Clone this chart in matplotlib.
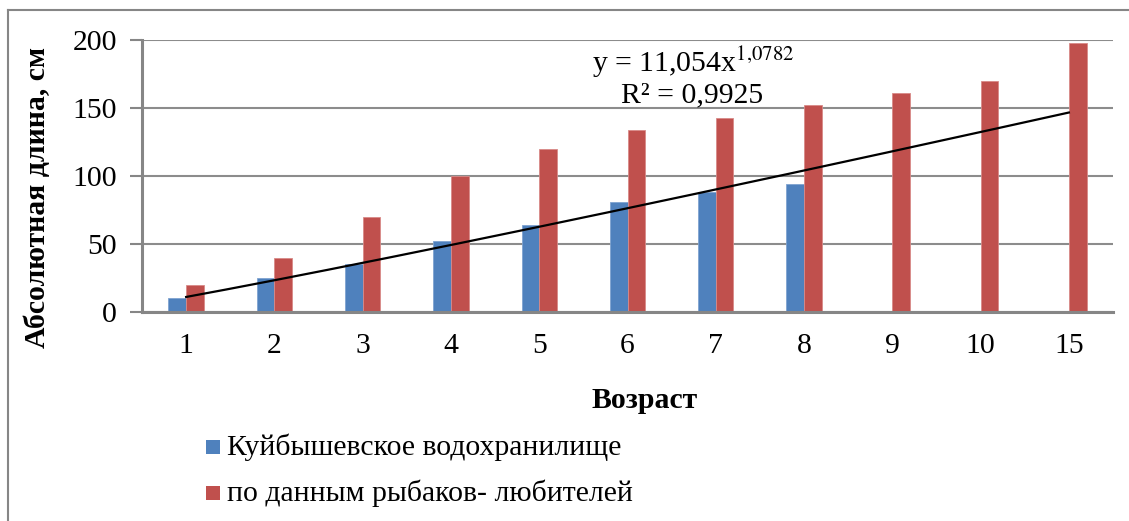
import matplotlib
matplotlib.use("Agg")
import matplotlib.pyplot as plt
import numpy as np
from matplotlib.patches import Rectangle
from matplotlib.lines import Line2D

categories = ["1", "2", "3", "4", "5", "6", "7", "8", "9", "10", "15"]
kuib = [10, 25, 35, 52, 64, 81, 88, 94, None, None, None]
fishers = [20, 40, 70, 100, 120, 134, 143, 152, 161, 170, 198]
series_names = ["Куйбышевское водохранилище", "по данным рыбаков- любителей"]
trend_a = 11.054
trend_b = 1.0782
eq_text = "y = 11,054x"
eq_exp = "1,0782"
r2_text = "R² = 0,9925"

plt.rcParams['font.family'] = ['Liberation Serif', 'DejaVu Serif']
plt.rcParams['mathtext.fontset'] = 'stix'

FS = 21.4

fig = plt.figure(figsize=(11.29, 5.21), dpi=100)
ax = fig.add_axes([142/1129, 1-312/521, (1113-142)/1129, (312-40)/521])

blue = "#4F81BD"
red = "#C0504D"
n = len(categories)
x = np.arange(n)
w = 0.2
bv = [v if v is not None else 0 for v in kuib]
ax.bar(x - w/2, bv, width=w, color=blue, edgecolor="#7FA3D0", linewidth=0.6, zorder=3)
ax.bar(x + w/2, fishers, width=w, color=red, edgecolor="#D88A88", linewidth=0.6, zorder=3)

# power trendline over category index 1..n
xi = np.linspace(1, n, 200)
ax.plot(xi - 1, trend_a * xi ** trend_b, color="black", lw=1.6, zorder=4)

ax.set_xlim(-0.5, n - 0.5)
ax.set_ylim(0, 200)
ax.set_yticks([0, 50, 100, 150, 200])
ax.set_xticks(x)
ax.set_xticklabels(categories)
ax.tick_params(axis='y', labelsize=FS, length=9, width=1.5, color="#868686", pad=9)
ax.tick_params(axis='x', labelsize=FS, length=0, pad=15)
ax.grid(axis='y', color="#8c8c8c", lw=1.5, zorder=0)
for s in ["top", "right"]:
    ax.spines[s].set_visible(False)
for s in ["left", "bottom"]:
    ax.spines[s].set_color("#868686")
    ax.spines[s].set_linewidth(2.2)
    ax.spines[s].set_zorder(5)

fig.text(38/1129, 1-197/521, "Абсолютная длина, см", rotation=90, ha="center", va="center",
         fontsize=FS, fontweight="bold")
fig.text(645/1129, 1-401/521, "Возраст", ha="center", va="center", fontsize=FS, fontweight="bold")

fig.text(693/1129, 1-62/521, eq_text + r"$^{\mathrm{" + eq_exp.replace(",", "{,}") + "}}$",
         ha="center", va="center", fontsize=FS)
fig.text(692/1129, 1-95/521, r2_text, ha="center", va="center", fontsize=FS)

# legend
for i, (name, col) in enumerate(zip(series_names, [blue, red])):
    yc = 1 - (447 + i*46)/521
    fig.patches.append(Rectangle((206/1129, yc - 7/521), 14/1129, 14/521, transform=fig.transFigure,
                                 facecolor=col, edgecolor="none"))
    fig.text(227/1129, yc, name, ha="left", va="center", fontsize=FS)

# outer frame (top & left visible)
fig.add_artist(Line2D([8/1129, 1.0], [1-10/521, 1-10/521], transform=fig.transFigure, color="#868686", lw=1.5))
fig.add_artist(Line2D([8/1129, 8/1129], [0, 1-10/521], transform=fig.transFigure, color="#868686", lw=1.5))

fig.savefig("out.png", dpi=100, facecolor="white")
